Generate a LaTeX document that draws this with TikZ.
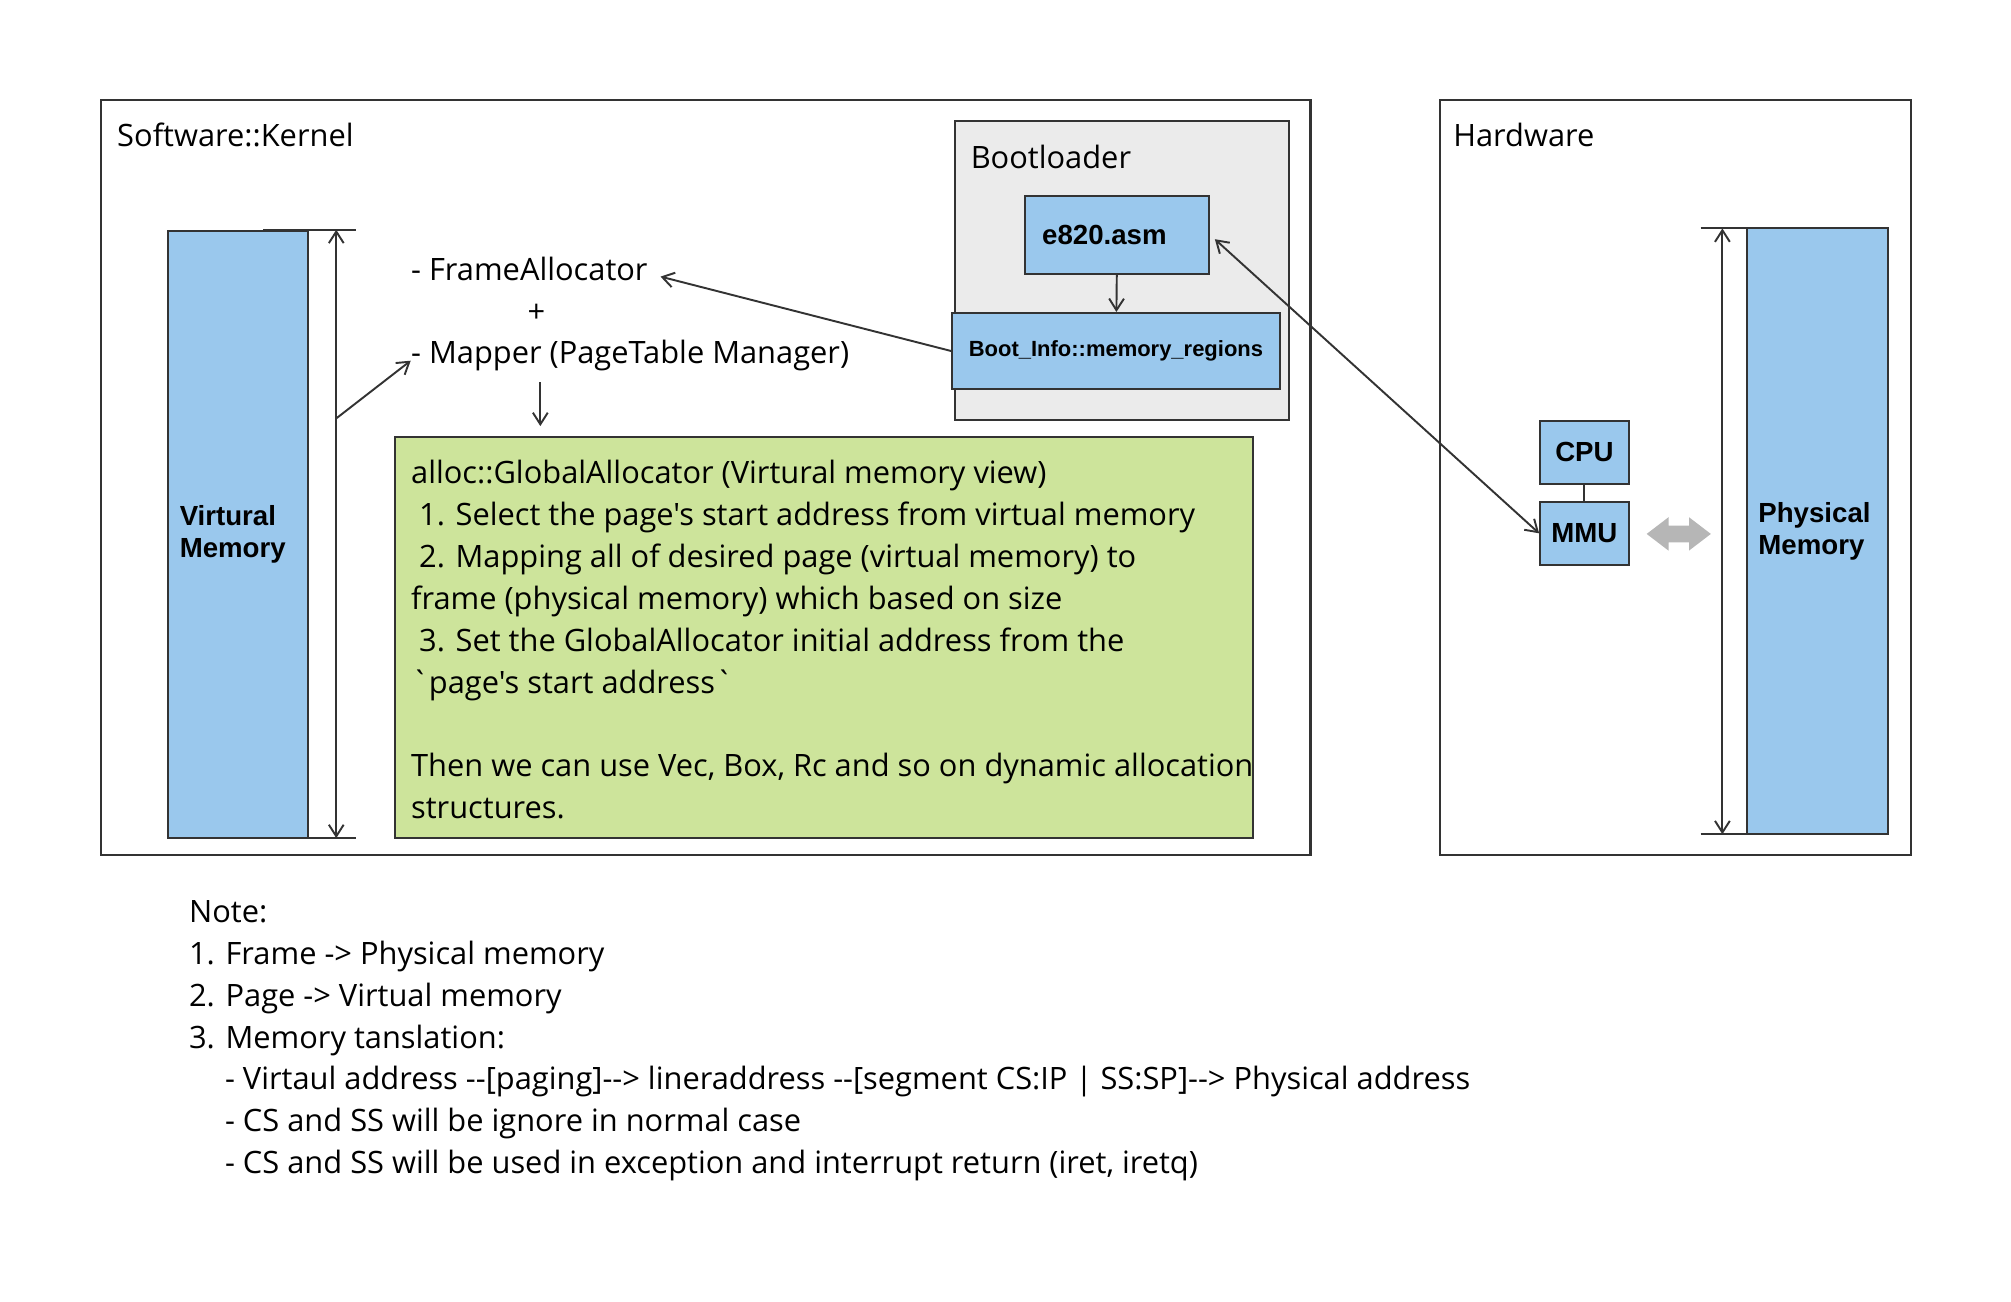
\documentclass[tikz,border=0pt]{standalone}
\usepackage{fontspec}
\setmainfont{Open Sans}[Ligatures=TeXOff]
\newfontfamily\boxfont{Liberation Sans}[Ligatures=TeXOff]
\usepackage{xcolor}
\usetikzlibrary{arrows.meta}
\definecolor{memblue}{RGB}{154,200,237}
\definecolor{bootgray}{RGB}{235,235,235}
\definecolor{allocgreen}{RGB}{205,228,155}
\definecolor{edge}{RGB}{51,51,51}
\definecolor{gripgray}{RGB}{182,182,182}
\tikzset{
	hand/.style={anchor=west, inner sep=0pt, yshift=-0.06cm, font=\fontsize{13.6}{18.6}\selectfont, text height=1.6ex, text depth=0.45ex},
	frame/.style={draw=edge, line width=0.9pt},
	memblock/.style={frame, fill=memblue},
	tag/.style={font=\boxfont\bfseries\fontsize{12.2}{14.2}\selectfont},
	memcol/.style={memblock, tag, align=left, inner xsep=0.18cm},
	link/.style={draw=edge, line width=0.85pt},
}

\begin{document}
\begin{tikzpicture}[x=0.01992cm, y=-0.01992cm, >={Straight Barb[length=1.8mm, width=2.3mm]}]
	\useasboundingbox (0,0) rectangle (31.2cm,-20.2cm);
	% frames
	\node (kernel) [frame, minimum width=18.76cm, minimum height=11.71cm] at (550,372) {};
	\node (hardware) [frame, minimum width=7.31cm, minimum height=11.71cm] at (1305.5,372) {};
	\node (boot) [frame, fill=bootgray, minimum width=5.18cm, minimum height=4.64cm] at (874,210.5) {};
	\node[hand] (kernellbl) at (91,106) {Software::Kernel};
	\node[hand] (hardwarelbl) at (1132,106) {Hardware};
	\node[hand] (bootlbl) at (756,123) {Bootloader};
	% bootloader
	\node (e820) [memblock, tag, align=left, text width=2.33cm, inner xsep=0.26cm, minimum height=1.2cm] at (870.5,183) {e820.asm};
	\node (bootinfo) [memblock, tag, font=\boxfont\bfseries\fontsize{9.7}{12}\selectfont, minimum width=5.08cm, minimum height=1.18cm] at (869.5,273.5) {Boot\_Info::memory\_regions};
	% kernel
	\node (vmem) [memcol, text width=1.81cm, minimum height=9.42cm] at (185.5,416.5) {Virtural\\Memory};
	\node[hand] (frame) at (320,210) {- FrameAllocator};
	\node[hand, anchor=center] (plus) at (418,243) {+};
	\node[hand] (mapper) at (320,275) {- Mapper (PageTable Manager)};
	\node (alloc) [frame, fill=allocgreen, minimum width=13.31cm, minimum height=6.22cm] at (642,497) {};
	\foreach \n/\t in {0/alloc::GlobalAllocator (Virtural memory view),
		1/\ 1. Select the page's start address from virtual memory,
		2/\ 2. Mapping all of desired page (virtual memory) to,
		3/frame (physical memory) which based on size,
		4/\ 3. Set the GlobalAllocator initial address from the,
		5/`page's start address`,
		7/{Then we can use Vec, Box, Rc and so on dynamic allocation},
		8/structures.}
		\node[hand] (alloc\n) at (320,{368+32.7*\n}) {\t};
	% hardware
	\node (cpu) [memblock, tag, minimum width=1.375cm, minimum height=0.976cm] at (1234.5,352.5) {CPU};
	\node (mmu) [memblock, tag, minimum width=1.375cm, minimum height=0.976cm] at (1234.5,415.5) {MMU};
	\node (pmem) [memcol, text width=1.83cm, minimum height=9.4cm] at (1416,414) {Physical\\Memory};
	\fill[gripgray] (1283,416) -- (1300,403) -- (1300,409.5) -- (1316,409.5) -- (1316,403) -- (1333,416)
		-- (1316,429) -- (1316,422.5) -- (1300,422.5) -- (1300,429) -- cycle;
	% size marks
	\coordinate (vtop) at (262,179);
	\coordinate (vbot) at (262,653);
	\coordinate (vmid) at (262,326);
	\coordinate (ptop) at (1342,178);
	\coordinate (pbot) at (1342,650);
	\coordinate (down) at (421,298);
	\draw[link] (205,179) -- (277,179);
	\draw[link] (205,653) -- (277,653);
	\draw[link] (1325,178) -- (1395,178);
	\draw[link] (1325,650) -- (1395,650);
	\draw[link, <->] (vtop) -- (vbot);
	\draw[link, <->] (ptop) -- (pbot);
	% connectors
	\draw[link, ->] (vmid) -- ([yshift=-0.06cm]mapper.west);
	\draw[link, ->, shorten >=0.2cm] (bootinfo.west) -- (frame.east);
	\draw[link, ->, shorten >=0.16cm] (down) -- (down |- alloc.north);
	\draw[link, ->] (e820) -- (bootinfo);
	\draw[link, <->, shorten <=0.1cm] (e820.east) -- (mmu.west);
	\draw[link] (cpu) -- (mmu);
	% notes
	\foreach \xx/\n/\t in {147/0/Note:,
		147/1/1. Frame -> Physical memory,
		147/2/2. Page -> Virtual memory,
		147/3/3. Memory tanslation:,
		175/4/- Virtaul address --[paging]--> lineraddress --[segment CS:IP | SS:SP]--> Physical address,
		175/5/- CS and SS will be ignore in normal case,
		175/6/{- CS and SS will be used in exception and interrupt return (iret, iretq)}}
		\node[hand] (note\n) at (\xx,{710+32.7*\n}) {\t};
\end{tikzpicture}
\end{document}
